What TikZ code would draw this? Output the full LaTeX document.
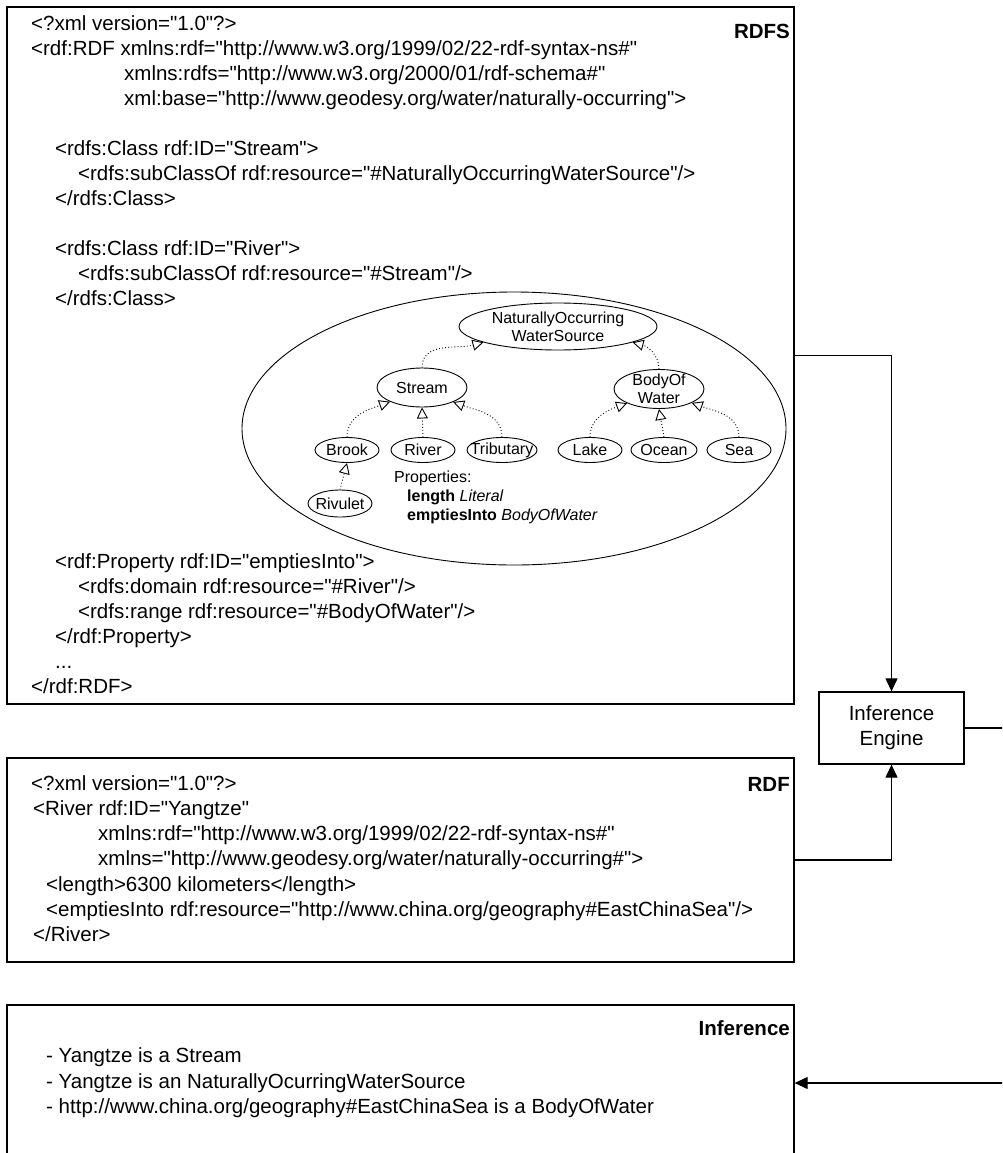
\documentclass[tikz,border=0pt]{standalone}
\usepackage{fontspec}
\setmainfont{Liberation Sans}[Ligatures=TeXOff]
\usetikzlibrary{shapes.geometric,arrows.meta}

% text sizes (1pt = one pixel of the page)
\newcommand\rdfcode{\fontsize{20.5}{25}\selectfont}
\newcommand\rdfsmall{\fontsize{16}{18}\selectfont}

\begin{document}
\begin{tikzpicture}[x=1pt,y=1pt,
  frame/.style={draw, line width=1.3pt, rectangle, inner sep=0pt},
  code/.style={anchor=west, inner sep=0pt, text height=15pt, text depth=4pt, font=\rdfcode},
  tag/.style={anchor=east, inner sep=0pt, text height=15pt, text depth=4pt, font=\rdfcode\bfseries},
  flow/.style={draw, line width=1.1pt, -{Triangle[length=13pt,width=12pt]}},
  cls/.style={draw, ellipse, line width=0.9pt, inner xsep=-8pt, inner ysep=-4pt,
              font=\rdfsmall, align=center, minimum height=25pt},
  gen/.style={draw, line width=0.9pt, dash pattern=on 0.9pt off 2.2pt,
              -{Triangle[open, length=11pt, width=11pt, line width=0.9pt]}},
  note/.style={anchor=west, inner sep=0pt, text height=11.5pt, text depth=3.3pt, font=\rdfsmall}
]
\useasboundingbox (0,0) rectangle (1002,-1153);
\fill[white] (0,0) rectangle (1002,-1153);
\clip (0,0) rectangle (1002,-1153);

% ---------- frames ----------
\node[frame, minimum width=787pt, minimum height=697pt] (rdfsbox) at (400.5,-355.5) {};
\node[frame, minimum width=787pt, minimum height=204pt] (rdfbox) at (400.5,-860) {};
\node[frame, minimum width=787pt, minimum height=156pt] (infbox) at (400.5,-1083) {};
\node[frame, minimum width=145pt, minimum height=72pt, font=\rdfcode, align=center]
  (engine) at (891.5,-728) {Inference\\Engine};

% ---------- RDFS schema ----------
\node[tag] (rdfslabel) at (790,-33) {RDFS};
\node[code] (s1) at (31,-25) {<?xml version="1.0"?>};
\node[code] (s2) at (31,-50) {<rdf:RDF xmlns:rdf="http://www.w3.org/1999/02/22-rdf-syntax-ns\#"};
\node[code] (s3) at (124,-75) {xmlns:rdfs="http://www.w3.org/2000/01/rdf-schema\#"};
\node[code] (s4) at (124,-100) {xml:base="http://www.geodesy.org/water/naturally-occurring">};
\node[code] (s5) at (55,-150) {<rdfs:Class rdf:ID="Stream">};
\node[code] (s6) at (78,-175) {<rdfs:subClassOf rdf:resource="\#NaturallyOccurringWaterSource"/>};
\node[code] (s7) at (55,-200) {</rdfs:Class>};
\node[code] (s8) at (55,-250) {<rdfs:Class rdf:ID="River">};
\node[code] (s9) at (78,-275) {<rdfs:subClassOf rdf:resource="\#Stream"/>};
\node[code] (s10) at (55,-300) {</rdfs:Class>};
\node[code] (s11) at (55,-563) {<rdf:Property rdf:ID="emptiesInto">};
\node[code] (s12) at (78,-588) {<rdfs:domain rdf:resource="\#River"/>};
\node[code] (s13) at (78,-613) {<rdfs:range rdf:resource="\#BodyOfWater"/>};
\node[code] (s14) at (55,-638) {</rdf:Property>};
\node[code] (s15) at (55,-663) {...};
\node[code] (s16) at (31,-688) {</rdf:RDF>};

% ---------- class hierarchy ----------
\node[draw, ellipse, line width=0.9pt, inner sep=0pt, minimum width=544pt, minimum height=273pt]
  (schema) at (514,-428.5) {};
\node[cls, minimum width=198pt, minimum height=47pt] (nows) at (558,-326.5) {NaturallyOccurring\\WaterSource};
\node[cls, minimum width=90pt, minimum height=39pt] (stream) at (422,-387.5) {Stream};
\node[cls, minimum width=90pt, minimum height=39pt] (bow) at (659,-389) {BodyOf\\Water};
\node[cls, minimum width=64pt] (brook) at (347,-450) {Brook};
\node[cls, minimum width=64pt] (river) at (423,-450) {River};
\node[cls, minimum width=70pt] (trib) at (502,-450) {Tributary};
\node[cls, minimum width=64pt] (lake) at (590,-450) {Lake};
\node[cls, minimum width=66pt] (ocean) at (664,-450) {Ocean};
\node[cls, minimum width=64pt] (sea) at (739,-450) {Sea};
\node[cls, minimum width=64pt, minimum height=27pt] (rivulet) at (340,-503.5) {Rivulet};

\node[note] (props) at (394,-478) {Properties:};
\node[note] (plength) at (407,-497) {\textbf{length} \textit{Literal}};
\node[note] (pempties) at (407,-516) {\textbf{emptiesInto} \textit{BodyOfWater}};

\draw[gen] (stream.north) to[out=90,in=195] (nows.192);
\draw[gen] (bow.north) to[out=90,in=-15] (nows.348);
\draw[gen] (brook.north) to[out=90,in=200] (stream.204);
\draw[gen] (river.north) -- (stream.south);
\draw[gen] (trib.north) to[out=90,in=-20] (stream.335);
\draw[gen] (lake.north) to[out=90,in=200] (bow.204);
\draw[gen] (ocean.north) -- (bow.south);
\draw[gen] (sea.north) to[out=90,in=-20] (bow.337);
\draw[gen] (rivulet.north) -- (brook.south);

% ---------- RDF instance ----------
\node[tag] (rdflabel) at (790,-786) {RDF};
\node[code] (d1) at (31,-785) {<?xml version="1.0"?>};
\node[code] (d2) at (33,-810) {<River rdf:ID="Yangtze"};
\node[code] (d3) at (98,-835) {xmlns:rdf="http://www.w3.org/1999/02/22-rdf-syntax-ns\#"};
\node[code] (d4) at (98,-860) {xmlns="http://www.geodesy.org/water/naturally-occurring\#">};
\node[code] (d5) at (46,-886) {<length>6300 kilometers</length>};
\node[code] (d6) at (46,-911) {<emptiesInto rdf:resource="http://www.china.org/geography\#EastChinaSea"/>};
\node[code] (d7) at (33,-936) {</River>};

% ---------- inference results ----------
\node[tag] (inflabel) at (790,-1030) {Inference};
\node[code] (i1) at (46,-1057) {- Yangtze is a Stream};
\node[code] (i2) at (46,-1083) {- Yangtze is an NaturallyOcurringWaterSource};
\node[code] (i3) at (46,-1108) {- http://www.china.org/geography\#EastChinaSea is a BodyOfWater};

% ---------- data flow ----------
\coordinate (turn) at (1014,-728);
\draw[flow] (rdfsbox.east) -| (engine.north);
\draw[flow] (rdfbox.east) -| (engine.south);
\draw[flow] (engine.east) -- (turn) |- (infbox.east);
\end{tikzpicture}
\end{document}
